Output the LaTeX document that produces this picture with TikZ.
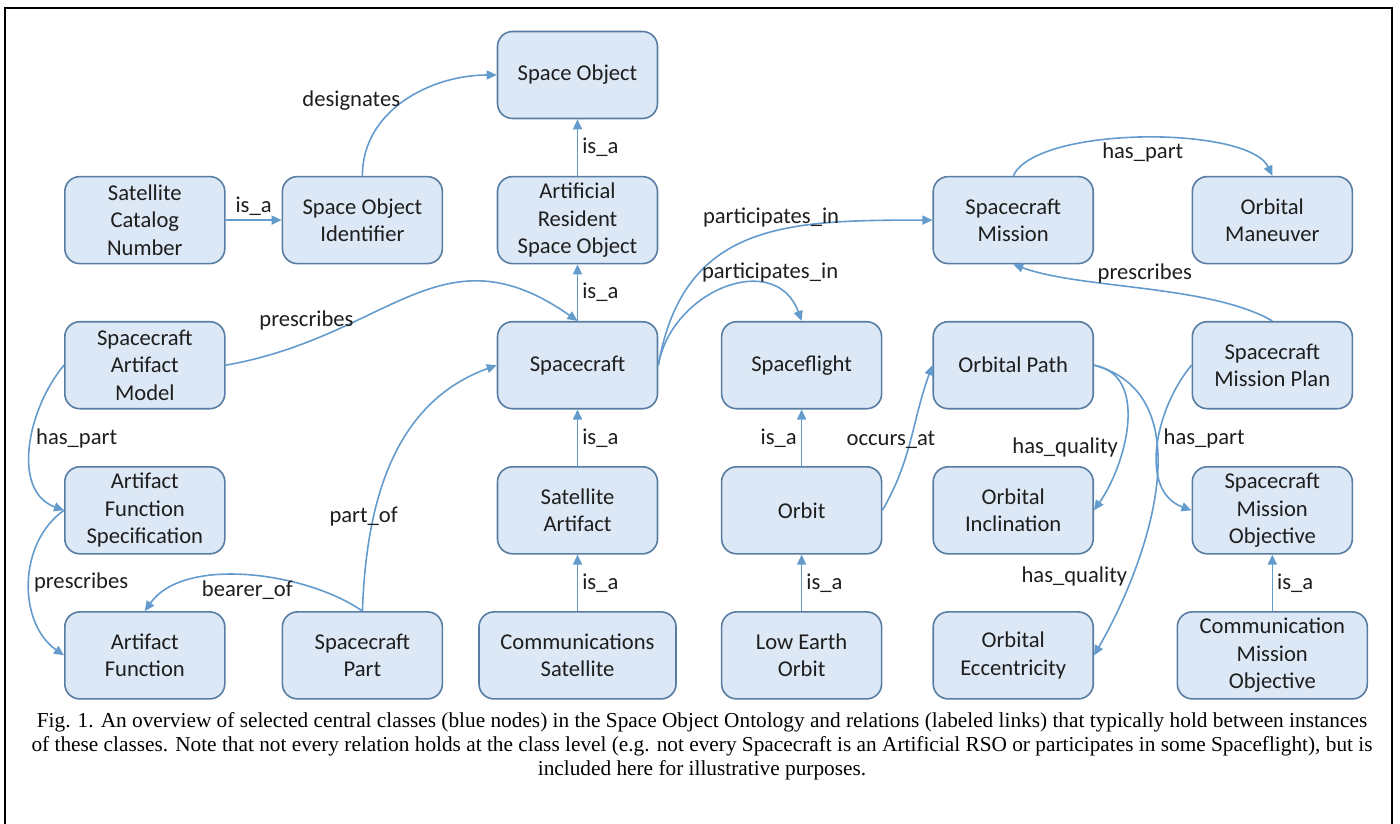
\documentclass[tikz,border=0pt]{standalone}
\usepackage{fontspec}
\setmainfont{Carlito}
\newfontfamily\capfont{Liberation Serif}
\usepackage{tikz}
\usetikzlibrary{arrows.meta}
\usetikzlibrary{positioning}
\definecolor{nodefill}{RGB}{220,232,245}
\definecolor{nodeline}{RGB}{88,124,162}
\definecolor{linkcol}{RGB}{100,155,205}
\definecolor{txt}{RGB}{30,30,30}
\tikzstyle{cls} = [rectangle,
rounded corners=7.5pt,
minimum width=80pt,
minimum height=43.5pt,
inner sep=2pt,
align=center,
fill=nodefill,
draw=nodeline,
line width=0.8pt,
text=txt,
font=\fontsize{11.3}{13.7}\selectfont]
\tikzstyle{link} = [linkcol, line width=0.8pt, -{Triangle[length=5pt,width=4.5pt]}]
\tikzstyle{rel} = [text=txt, font=\fontsize{11.3}{13.7}\selectfont, inner sep=2pt]

\begin{document}
\begin{tikzpicture}[x=0.5pt, y=0.5pt, node distance=28.25pt and 27pt]

\useasboundingbox (0,0) rectangle (1400,-823);
\draw [line width=1.2pt] (5,-830) -- (5,-8) -- (1392,-8) -- (1392,-830);

\node (spaceobj) at (577.5,-75) [cls] {Space Object};

\node (arso) [cls, below= of spaceobj] {Artificial\\Resident\\Space Object};

\node (spacecraft) [cls, below= of arso] {Spacecraft};

\node (satart) [cls, below= of spacecraft] {Satellite\\Artifact};

\node (commsat) [cls, minimum width=98.5pt, below= of satart] {Communications\\Satellite};

\node (soid) [cls, left=26.75pt of arso] {Space Object\\Identifier};

\node (satcat) [cls, left=28pt of soid] {Satellite\\Catalog\\Number};

\node (scmodel) [cls, below= of satcat] {Spacecraft\\Artifact\\Model};

\node (afspec) [cls, below= of scmodel] {Artifact\\Function\\Specification};

\node (afunc) [cls, below= of afspec] {Artifact\\Function};

\node (scpart) [cls, right=28pt of afunc] {Spacecraft\\Part};

\node (spaceflight) [cls, right=31.25pt of spacecraft] {Spaceflight};

\node (orbit) [cls, below= of spaceflight] {Orbit};

\node (leo) [cls, below= of orbit] {Low Earth\\Orbit};

\node (orbpath) [cls, right=25pt of spaceflight] {Orbital Path};

\node (scmission) [cls, above= of orbpath] {Spacecraft\\Mission};

\node (orbincl) [cls, below= of orbpath] {Orbital\\Inclination};

\node (orbecc) [cls, below= of orbincl] {Orbital\\Eccentricity};

\node (scplan) [cls, right=48.75pt of orbpath] {Spacecraft\\Mission Plan};

\node (maneuver) [cls, above= of scplan] {Orbital\\Maneuver};

\node (scobj) [cls, below= of scplan] {Spacecraft\\Mission\\Objective};

\node (commobj) [cls, minimum width=95pt, below= of scobj] {Communication\\Mission\\Objective};

\node (caption) at (702,-746) [align=center, font=\fontsize{10.65}{12}\capfont] {Fig. 1. An overview of selected central classes (blue nodes) in the Space Object Ontology and relations (labeled links) that typically hold between instances\\
of these classes. Note that not every relation holds at the class level (e.g. not every Spacecraft is an Artificial RSO or participates in some Spaceflight), but is\\
included here for illustrative purposes.};

\draw [link] (satcat) -- node[rel, above] {is\_a} (soid);
\draw [link] (soid.north) to[out=90, in=180] node[rel, midway, left] {designates} (spaceobj.west);
\draw [link] (arso) -- node[rel, right] {is\_a} (spaceobj);
\draw [link] (spacecraft) -- node[rel, right] {is\_a} (arso);
\draw [link] (satart) -- node[rel, right] {is\_a} (spacecraft);
\draw [link] (commsat) -- node[rel, right] {is\_a} (satart);
\draw [link] (orbit) -- node[rel, left] {is\_a} (spaceflight);
\draw [link] (leo) -- node[rel, right] {is\_a} (orbit);
\draw [link] (commobj) -- node[rel, right] {is\_a} (scobj);
\draw [link] (scmodel.east) to[out=10, in=145, looseness=1.2] node[rel, pos=0.33, left] {prescribes} (spacecraft.north);
\draw [link] (spacecraft.east) to[out=80, in=180, looseness=1.2] node[rel, pos=0.57, above] {participates\_in} (scmission.west);
\draw [link] (spacecraft.east) to[out=80, in=110, looseness=1.3] node[rel, pos=0.75, above] {participates\_in} (spaceflight.north);
\draw [link] (scmission.north) to[out=65, in=115, looseness=0.55] node[rel, midway, below] {has\_part} (maneuver.north);
\draw [link] (scplan.north) to[out=150, in=-20, looseness=0.7] node[rel, midway, above] {prescribes} (scmission.south);
\draw [link] (orbit.east) to[out=60, in=250] node[rel, midway, xshift=-10pt] {occurs\_at} (orbpath.west);
\draw [link] (orbpath.east) to[out=-10, in=55] node[rel, pos=0.63, left] {has\_quality} (orbincl.east);
\draw [link] (orbpath.east) to[out=-15, in=60] node[rel, pos=0.76, left] {has\_quality} (orbecc.east);
\draw [link] (scplan.west) to[out=230, in=160] node[rel, pos=0.45, right] {has\_part} (scobj.west);
\draw [link] (scmodel.west) to[out=230, in=160] node[rel, pos=0.45, right] {has\_part} (afspec.west);
\draw [link] (afspec.west) to[out=215, in=145] node[rel, midway, right] {prescribes} (afunc.west);
\draw [link] (scpart.north) to[out=145, in=55, looseness=0.8] node[rel, midway, below] {bearer\_of} (afunc.north);
\draw [link] (scpart.north) to[out=88, in=200] node[rel, pos=0.3, xshift=-5pt] {part\_of} (spacecraft.west);

\end{tikzpicture}
\end{document}
